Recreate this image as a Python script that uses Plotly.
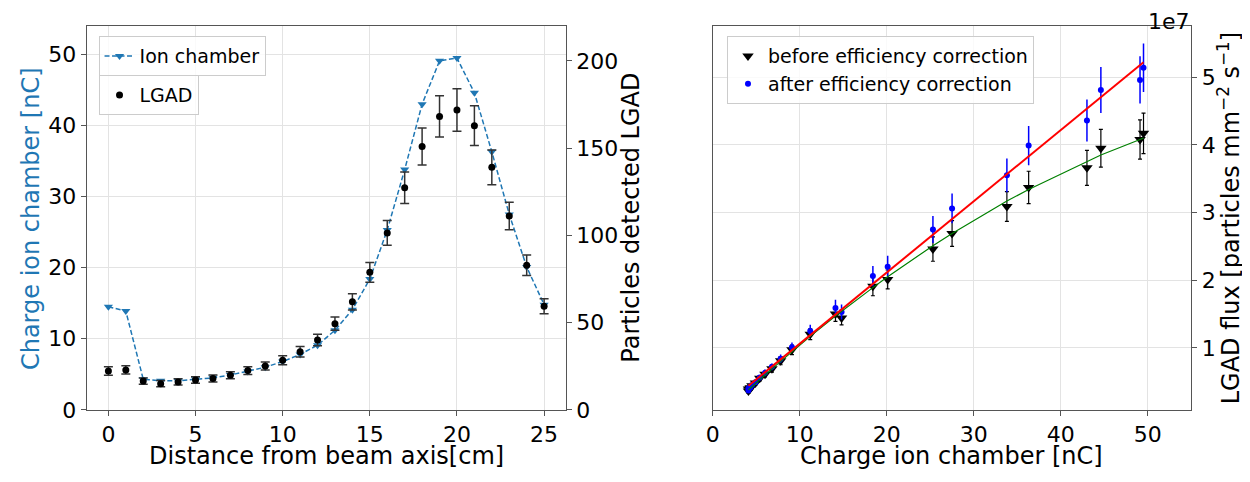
import plotly.graph_objects as go

# Left panel: transverse scan of the beam
distance_cm = [0, 1, 2, 3, 4, 5, 6, 7, 8, 9, 10, 11, 12,
               13, 14, 15, 16, 17, 18, 19, 20, 21, 22, 23, 24, 25]
ion_charge_nc = [14.5, 13.9, 4.3, 4.1, 4.1, 4.3, 4.5, 4.9, 5.4, 6.0, 6.8, 7.8, 9.1,
                 11.2, 14.1, 18.4, 25.3, 33.8, 43.0, 49.1, 49.5, 44.6, 36.3, 27.5, 20.1, 14.8]
lgad_counts = [22.3, 22.9, 16.5, 15.0, 16.0, 17.1, 18.0, 19.9, 22.5, 25.1, 28.4, 33.3, 40.0,
               49.4, 61.9, 78.8, 101.4, 127.3, 150.9, 168.2, 171.9, 162.9, 139.0, 111.1, 82.9, 59.4]
lgad_err = [2.4, 2.4, 1.8, 1.8, 1.8, 1.9, 2.0, 2.0, 2.2, 2.3, 2.6, 3.0, 3.3,
            3.8, 4.6, 5.7, 7.1, 9.0, 10.6, 11.8, 12.2, 11.4, 10.0, 7.9, 5.9, 4.3]

# Right panel: LGAD flux (x 1e7 particles mm^-2 s^-1) for positions 2..25
flux_charge_nc = [4.3, 4.1, 4.1, 4.3, 4.5, 4.9, 5.4, 6.0, 6.8, 7.8, 9.1, 11.2,
                  14.1, 18.4, 25.3, 33.8, 43.0, 49.1, 49.5, 44.6, 36.3, 27.5, 20.1, 14.8]
flux_before = [0.40, 0.36, 0.39, 0.41, 0.44, 0.48, 0.55, 0.61, 0.69, 0.81, 0.97, 1.20,
               1.50, 1.91, 2.46, 3.09, 3.66, 4.08, 4.17, 3.95, 3.37, 2.69, 2.01, 1.44]
flux_before_err = [0.03, 0.03, 0.03, 0.03, 0.03, 0.03, 0.04, 0.04, 0.05, 0.06, 0.07, 0.08,
                   0.11, 0.14, 0.18, 0.22, 0.26, 0.29, 0.30, 0.28, 0.24, 0.19, 0.14, 0.10]
flux_after = [0.41, 0.37, 0.40, 0.42, 0.45, 0.49, 0.56, 0.63, 0.72, 0.84, 1.01, 1.25,
              1.59, 2.06, 2.75, 3.55, 4.36, 4.96, 5.14, 4.81, 3.99, 3.06, 2.20, 1.53]
flux_after_err = [0.03, 0.03, 0.03, 0.03, 0.03, 0.04, 0.04, 0.05, 0.05, 0.06, 0.07, 0.09,
                  0.12, 0.15, 0.20, 0.25, 0.31, 0.35, 0.36, 0.34, 0.29, 0.22, 0.16, 0.11]

# fit curves
quad_fit_x = [4.1, 4.3, 4.5, 4.9, 5.4, 6.0, 6.8, 7.8, 9.1, 11.2, 14.1,
              14.8, 18.4, 20.1, 25.3, 27.5, 33.8, 36.3, 43.0, 44.6, 49.1, 49.5]
quad_fit_y = [0.38, 0.40, 0.43, 0.47, 0.53, 0.60, 0.69, 0.80, 0.94, 1.17, 1.47,
              1.54, 1.89, 2.05, 2.51, 2.69, 3.17, 3.34, 3.76, 3.85, 4.08, 4.10]
lin_fit_x = [4.1, 49.5]
lin_fit_y = [0.44, 5.22]

FONT = "DejaVu Sans"
TAB_BLUE = "#1f77b4"
SPINE = "#555555"
GRID = "#e3e3e3"
# the page body keeps its default 8px margin: the figure starts 8px in,
# so window positions are shifted by that amount
PAGE_PAD = 8
W, H = 1250, 482


def px_x(p):
    return (p - PAGE_PAD) / W


def px_y(p):
    return 1 - (p - PAGE_PAD) / H


fig = go.Figure()

fig.add_trace(go.Scatter(
    x=distance_cm, y=ion_charge_nc, mode="lines+markers", name="Ion chamber",
    line=dict(color=TAB_BLUE, width=1.5, dash="5px,2.5px"),
    marker=dict(symbol="triangle-down", size=8, color=TAB_BLUE),
    xaxis="x", yaxis="y", legend="legend",
))
fig.add_trace(go.Scatter(
    x=distance_cm, y=lgad_counts, mode="markers", name="LGAD",
    marker=dict(symbol="circle", size=7, color="black"),
    error_y=dict(type="data", array=lgad_err, color="#333333", thickness=1.5, width=4.5),
    xaxis="x", yaxis="y2", legend="legend2",
))

fig.add_trace(go.Scatter(
    x=flux_charge_nc, y=flux_before, mode="markers", name="before efficiency correction",
    marker=dict(symbol="triangle-down", size=10, color="black"),
    error_y=dict(type="data", array=flux_before_err, color="black", thickness=1.2, width=2),
    xaxis="x2", yaxis="y3", legend="legend3",
))
fig.add_trace(go.Scatter(
    x=flux_charge_nc, y=flux_after, mode="markers", name="after efficiency correction",
    marker=dict(symbol="circle", size=6, color="blue"),
    error_y=dict(type="data", array=flux_after_err, color="blue", thickness=1.5, width=0),
    xaxis="x2", yaxis="y3", legend="legend3",
))
fig.add_trace(go.Scatter(
    x=quad_fit_x, y=quad_fit_y, mode="lines", line=dict(color="green", width=1.2),
    showlegend=False, hoverinfo="skip", xaxis="x2", yaxis="y3",
))
fig.add_trace(go.Scatter(
    x=lin_fit_x, y=lin_fit_y, mode="lines", line=dict(color="red", width=2),
    showlegend=False, hoverinfo="skip", xaxis="x2", yaxis="y3",
))

tick_font = dict(family=FONT, size=22, color="black")
axis_common = dict(
    showline=True, linecolor=SPINE, linewidth=1, mirror=True,
    ticks="outside", ticklen=5, tickcolor=SPINE, tickfont=tick_font,
    zeroline=False, gridcolor=GRID, gridwidth=1,
)
y_domain = [px_y(421), px_y(26.5)]

legend_common = dict(
    bgcolor="rgba(255,255,255,0.8)", bordercolor="#cccccc", borderwidth=1,
    font=dict(family=FONT, size=19, color="black"),
    xanchor="left", yanchor="top",
)

fig.update_layout(
    width=W, height=H, autosize=False,
    margin=dict(l=0, r=0, t=0, b=0),
    paper_bgcolor="white", plot_bgcolor="white",
    font=dict(family=FONT, color="black"),
    xaxis=dict(axis_common, domain=[px_x(80), px_x(562)], range=[-1.25, 26.25],
               tick0=0, dtick=5, anchor="y", showgrid=True),
    yaxis=dict(axis_common, domain=y_domain, range=[0, 54], tick0=0, dtick=10,
               anchor="x", showgrid=True),
    yaxis2=dict(axis_common, overlaying="y", side="right", range=[0, 220],
                tick0=0, dtick=50, anchor="x", showgrid=False),
    xaxis2=dict(axis_common, domain=[px_x(709.7), px_x(1191)], range=[0, 55],
                tick0=0, dtick=10, anchor="y3", showgrid=True),
    yaxis3=dict(axis_common, domain=y_domain, range=[0.083, 5.757], side="right",
                tickvals=[1, 2, 3, 4, 5], anchor="x2", showgrid=True),
    legend=dict(legend_common, x=px_x(92), y=px_y(37)),
    legend2=dict(legend_common, x=px_x(92), y=px_y(77)),
    legend3=dict(legend_common, x=px_x(724), y=px_y(37)),
)

title_font = dict(family=FONT, size=24, color="black")
annotations = [
    dict(text="Distance from beam axis[cm]", x=px_x(321), y=px_y(468)),
    dict(text="Charge ion chamber [nC]", x=px_x(24), y=px_y(224), textangle=-90,
         font=dict(title_font, color=TAB_BLUE)),
    dict(text="Particles detected LGAD", x=px_x(628), y=px_y(224), textangle=-90),
    dict(text="Charge ion chamber [nC]", x=px_x(950), y=px_y(468)),
    dict(text="LGAD flux [particles mm<sup>\u22122</sup> s<sup>\u22121</sup>]",
         x=px_x(1229), y=px_y(224), textangle=-90),
]
for a in annotations:
    a.setdefault("font", title_font)
    fig.add_annotation(xref="paper", yref="paper", showarrow=False,
                       xanchor="center", yanchor="middle", **a)
# offset text of the right-hand axis, kept inside the top of the figure
fig.add_annotation(text="1e7", xref="paper", yref="paper", x=px_x(1191), y=1,
                   xanchor="right", yanchor="top", showarrow=False, borderpad=0,
                   font=dict(family=FONT, size=22, color="black"))

fig.write_html("out.html")
